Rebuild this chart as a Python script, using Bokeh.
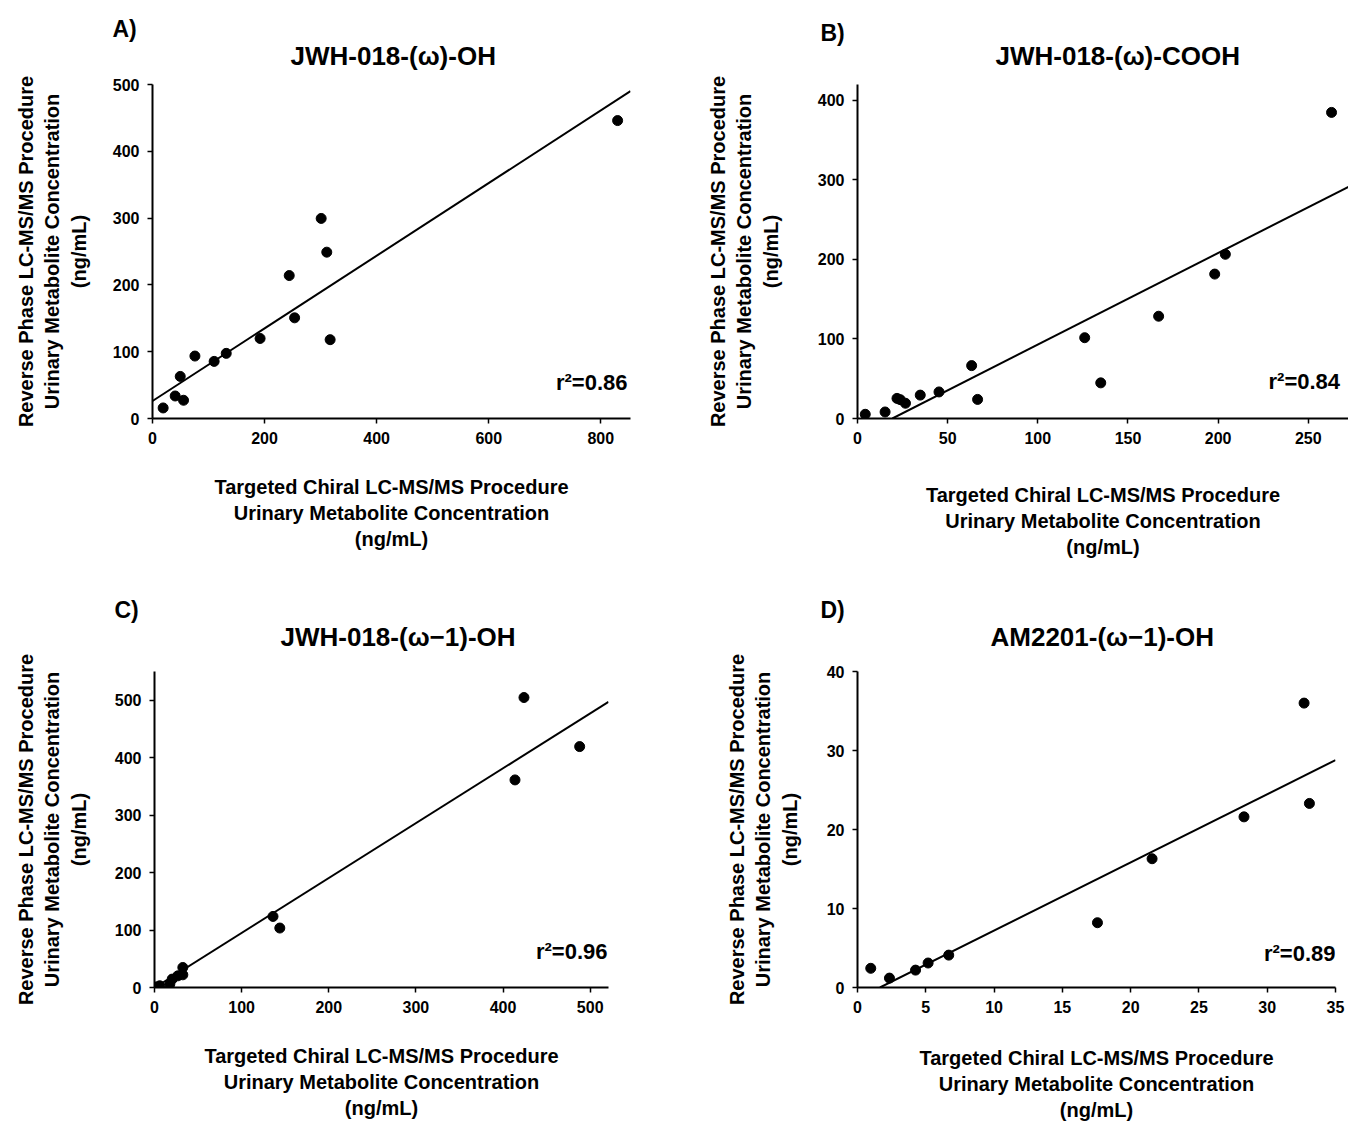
from bokeh.plotting import figure
from bokeh.layouts import column, row
from bokeh.models import Label, Range1d, FixedTicker, Title
from bokeh.embed import file_html
from bokeh.resources import INLINE

FONT = "Liberation Sans"

# ---------------- data ----------------
# A) JWH-018-(omega)-OH
a_title = "JWH-018-(ω)-OH"
a_x = [19, 40.5, 55.4, 49.5, 75.7, 110, 131.6, 192, 244, 253.6, 301, 311, 317, 830]
a_y = [15.8, 33.7, 27.3, 63, 93.5, 85.5, 97.5, 119.8, 214, 150.7, 299.5, 249, 118, 446]
a_slope, a_intercept = 0.5437, 26.2
a_r2 = "r²=0.86"
a_xticks = [0, 200, 400, 600, 800]
a_yticks = [0, 100, 200, 300, 400, 500]

# B) JWH-018-(omega)-COOH
b_title = "JWH-018-(ω)-COOH"
b_x = [4.3, 15.3, 21.9, 23.7, 26.6, 34.8, 45.2, 63.3, 66.6, 126, 134.9, 167, 198.1, 204, 262.9]
b_y = [5.3, 8.2, 25.3, 23.7, 19.2, 29.4, 33.4, 66.5, 24, 101.6, 44.8, 128.6, 181.6, 206.5, 384.9]
b_slope, b_intercept = 1.152, -22.3
b_r2 = "r²=0.84"
b_xticks = [0, 50, 100, 150, 200, 250]
b_yticks = [0, 100, 200, 300, 400]

# C) JWH-018-(omega-1)-OH
c_title = "JWH-018-(ω−1)-OH"
c_x = [0, 2, 6, 17.6, 20.3, 26.8, 32.5, 32.5, 136, 143.8, 413.7, 424, 487.9]
c_y = [0, 1, 3, 6, 14.6, 20.3, 34.8, 22.1, 123.7, 103.5, 361.3, 504.7, 419.3]
c_slope, c_intercept = 0.955, -0.5
c_r2 = "r²=0.96"
c_xticks = [0, 100, 200, 300, 400, 500]
c_yticks = [0, 100, 200, 300, 400, 500]

# D) AM2201-(omega-1)-OH
d_title = "AM2201-(ω−1)-OH"
d_x = [0.97, 2.34, 4.25, 5.17, 6.68, 17.57, 21.57, 28.3, 32.7, 33.09]
d_y = [2.43, 1.19, 2.2, 3.1, 4.1, 8.2, 16.3, 21.6, 36.0, 23.3]
d_slope, d_intercept = 0.863, -1.42
d_r2 = "r²=0.89"
d_xticks = [0, 5, 10, 15, 20, 25, 30, 35]
d_yticks = [0, 10, 20, 30, 40]

x_label = "Targeted Chiral LC-MS/MS Procedure\nUrinary Metabolite Concentration\n(ng/mL)"
y_label = "Reverse Phase LC-MS/MS Procedure\nUrinary Metabolite Concentration\n(ng/mL)"


def make_panel(w, h, bl, br, bt, bb, xr, yr, xticks, yticks,
               xs, ys, slope, intercept, r2, title, letter, pos):
    p = figure(width=w, height=h, x_range=Range1d(*xr), y_range=Range1d(*yr),
               output_backend="svg", toolbar_location=None,
               min_border_left=bl, min_border_right=br,
               min_border_top=bt, min_border_bottom=bb)
    p.outline_line_color = None
    p.grid.visible = False
    p.background_fill_color = "white"
    p.border_fill_color = "white"
    for ax, ticks in ((p.xaxis[0], xticks), (p.yaxis[0], yticks)):
        ax.ticker = FixedTicker(ticks=ticks)
        ax.axis_line_width = 2
        ax.axis_line_color = "black"
        ax.major_tick_line_color = "black"
        ax.major_tick_line_width = 1.5
        ax.major_tick_in = 0
        ax.major_tick_out = 5
        ax.minor_tick_line_color = None
        ax.major_label_text_font = FONT
        ax.major_label_text_font_style = "bold"
        ax.major_label_text_font_size = "16px"
        ax.major_label_text_color = "black"
        ax.major_label_standoff = 8
        ax.axis_label_text_font = FONT
        ax.axis_label_text_font_style = "bold"
        ax.axis_label_text_font_size = "20px"
        ax.axis_label_text_color = "black"
        ax.axis_label_text_line_height = 1.2
    p.xaxis.axis_label = x_label
    p.yaxis.axis_label = y_label
    p.xaxis.axis_label_standoff = pos["xls"]
    p.yaxis.axis_label_standoff = pos["yls"]

    # panel letter (outer) and the main title (next to the frame)
    p.title.text = letter
    p.title.align = "left"
    p.title.offset = pos["loff"]
    p.title.text_font = FONT
    p.title.text_font_style = "bold"
    p.title.text_font_size = "23px"
    p.title.text_color = "black"
    p.title.standoff = pos["lstand"]
    p.add_layout(Title(text=title, align="left", offset=pos["toff"], text_font=FONT,
                       text_font_style="bold", text_font_size="26px", text_color="black",
                       standoff=pos["tstand"]), "above")

    # regression line, clipped to y >= 0 inside the axis range
    x0 = max(xr[0], -intercept / slope)
    x1 = xr[1]
    p.line([x0, x1], [slope * x0 + intercept, slope * x1 + intercept],
           line_color="black", line_width=2)
    p.scatter(xs, ys, size=10, fill_color="black", line_color="black")

    p.add_layout(Label(x=pos["r2"][0], y=pos["r2"][1], x_units="screen", y_units="screen",
                       text=r2, text_font=FONT, text_font_size="22px",
                       text_font_style="bold", text_align=pos["r2_align"],
                       text_baseline="middle", text_color="black"))
    return p


# frame edges on the page: A 152..630 x 84..418, B 857..1348 x 80..423,
# C 154..608 x 671..987, D 857..1335 x 652..988
pa = make_panel(678, 578, 152, 48, 84, 160, (0, 853), (0, 500),
                a_xticks, a_yticks, a_x, a_y, a_slope, a_intercept, a_r2, a_title, "A)",
                dict(toff=138, loff=-40, tstand=27, lstand=-32, xls=29, yls=20,
                     r2=(475, 36), r2_align="right"))

pb = make_panel(670, 578, 179, 0, 80, 155, (0, 272.3), (0, 420),
                b_xticks, b_yticks, b_x, b_y, b_slope, b_intercept, b_r2, b_title, "B)",
                dict(toff=138, loff=-37, tstand=27, lstand=-40, xls=37, yls=33,
                     r2=(411, 37), r2_align="left"))

pc = make_panel(678, 547, 154, 70, 93, 138, (0, 521), (0, 550),
                c_xticks, c_yticks, c_x, c_y, c_slope, c_intercept, c_r2, c_title, "C)",
                dict(toff=126, loff=-40, tstand=40, lstand=-46, xls=29, yls=22,
                     r2=(453, 36), r2_align="right"))

pd = make_panel(670, 547, 179, 13, 74, 137, (0, 35), (0, 40),
                d_xticks, d_yticks, d_x, d_y, d_slope, d_intercept, d_r2, d_title, "D)",
                dict(toff=133, loff=-37, tstand=40, lstand=-46, xls=31, yls=23,
                     r2=(478, 34), r2_align="right"))

layout = column(row(pa, pb), row(pc, pd))

open("out.html", "w").write(file_html(layout, INLINE))
